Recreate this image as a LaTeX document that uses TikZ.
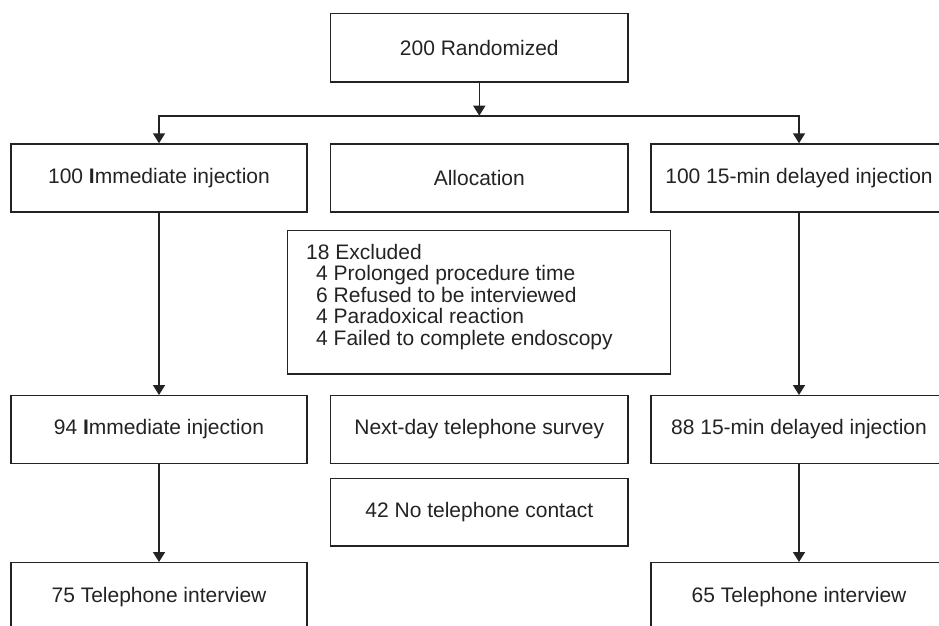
\documentclass[tikz,border=0pt]{standalone}
\usepackage{fontspec}
\setmainfont{Liberation Sans}
\usetikzlibrary{arrows.meta}
\definecolor{ink}{RGB}{35,35,35}
\begin{document}
\begin{tikzpicture}[x=1pt,y=-1pt,
  box/.style={draw=ink, line width=1.4pt, minimum width=296pt, minimum height=68pt,
    inner sep=0pt, text=ink, font=\fontsize{21}{21.4}\selectfont},
  txt/.style={inner sep=0pt, text=ink, font=\fontsize{21}{21.4}\selectfont},
  arr/.style={draw=ink, line width=1.6pt, -{Triangle[width=12pt,length=10pt]}},
  link/.style={draw=ink, line width=1.6pt}]
\useasboundingbox (0,0) rectangle (939,626);
\clip (0,0) rectangle (939,626);
% top
\node[box, minimum width=297.3pt, minimum height=68.3pt] (rand) at (479.3,47.8) {200 Randomized};
\coordinate (split) at (479.3,115.7);
% row 1
\node[box] (left1) at (159,178) {100 \textbf{I}mmediate injection};
\node[box, minimum width=297.3pt] (alloc) at (479.3,178) {Allocation};
\node[box] (right1) at (799,178) {100 15-min delayed injection};
% exclusion
\node[box, minimum width=383pt, minimum height=143.3pt] (excl) at (478.8,302.3) {};
\node[txt, anchor=north west, align=left] (excltext) at (306,244) {18 Excluded\\
\hspace{10pt}4 Prolonged procedure time\\
\hspace{10pt}6 Refused to be interviewed\\
\hspace{10pt}4 Paradoxical reaction\\
\hspace{10pt}4 Failed to complete endoscopy};
% row 2
\node[box, minimum height=67.6pt] (left2) at (159,429.5) {94 \textbf{I}mmediate injection};
\node[box, minimum width=297.3pt, minimum height=67.6pt] (survey) at (479.3,429.5) {Next-day telephone survey};
\node[box, minimum height=67.6pt] (right2) at (799,429.5) {88 15-min delayed injection};
% no contact
\node[box, minimum width=297.3pt, minimum height=67.7pt] (nocontact) at (479.3,512.2) {42 No telephone contact};
% bottom
\node[box] (left3) at (159,596.7) {75 Telephone interview};
\node[box] (right3) at (799,596.7) {65 Telephone interview};
% connectors
\draw[arr] (rand) -- (split);
\draw[arr] (split) -| (left1.north);
\draw[arr] (split) -| (right1.north);
\draw[arr] (left1) -- (left2);
\draw[arr] (left2) -- (left3);
\draw[arr] (right1) -- (right2);
\draw[arr] (right2) -- (right3);
\end{tikzpicture}
\end{document}
